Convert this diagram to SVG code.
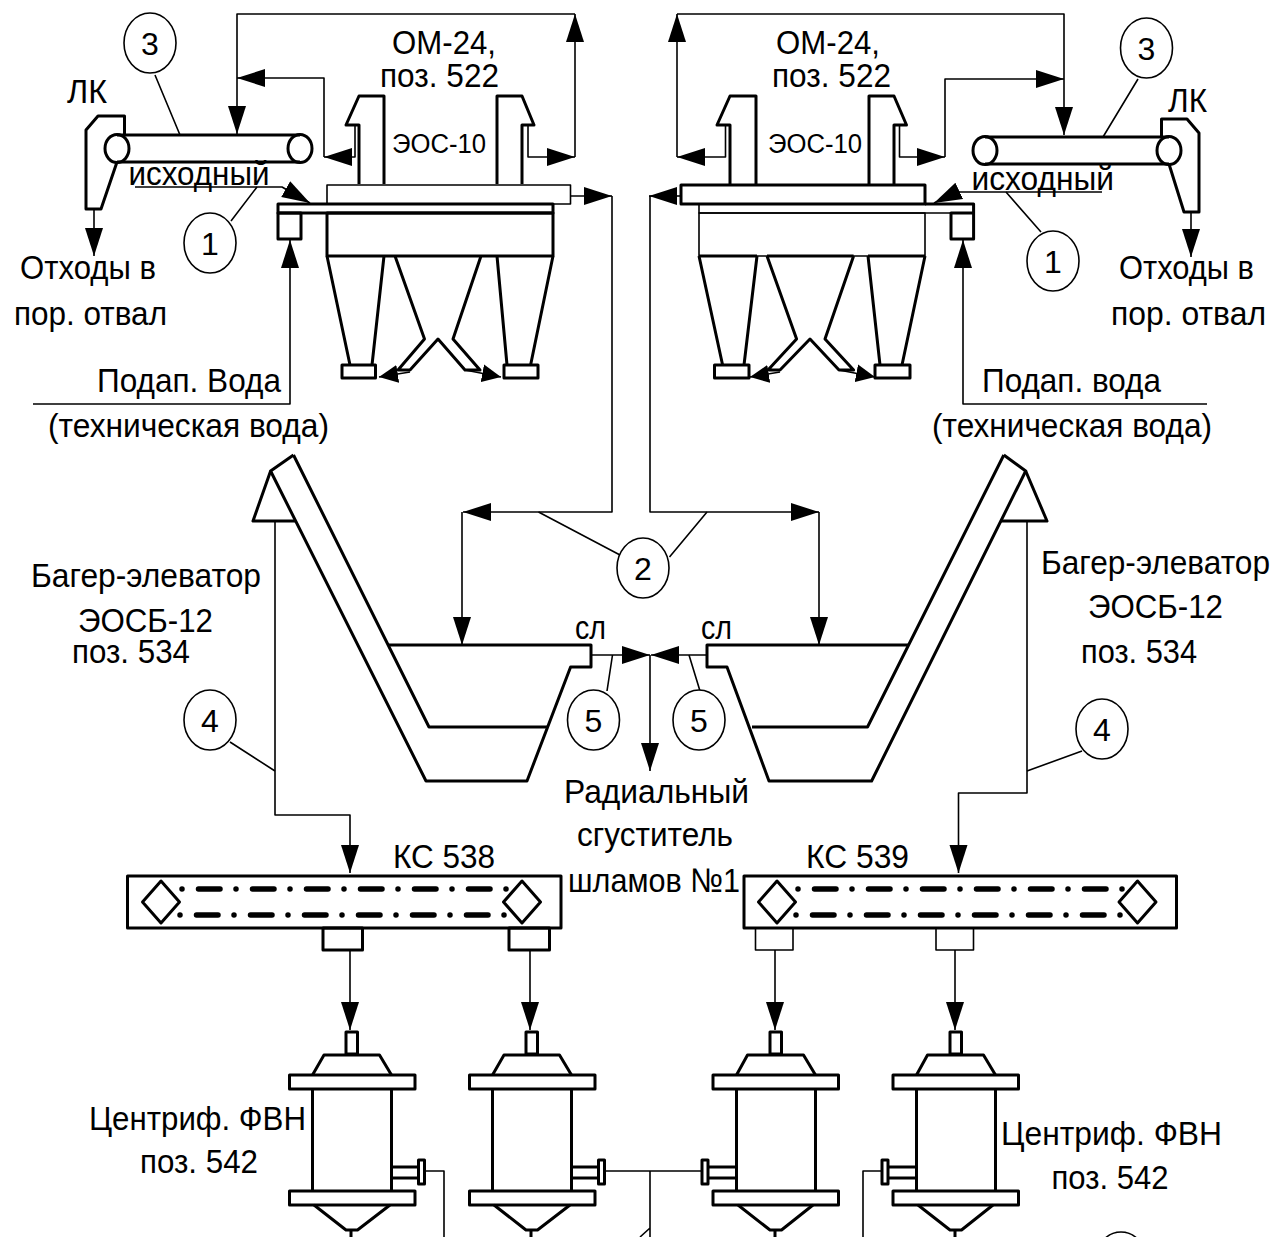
<svg xmlns="http://www.w3.org/2000/svg" width="1278" height="1237" viewBox="0 0 1278 1237">
<style>
text{font-family:"Liberation Sans",Arial,sans-serif;font-size:34px;fill:#000}
.s{font-size:27px}
.g{font-size:32px}
.m{text-anchor:middle}
path,rect,ellipse,polygon,line{fill:none;stroke:#000;stroke-width:3;stroke-linejoin:round}
.t{stroke-width:1.6}
.c{stroke-width:1.6}
.k{fill:#000;stroke:none}
.r{stroke-width:1.6;fill:#fff}
.d{stroke-width:5.5;stroke-linecap:round;stroke-dasharray:0 16.5 21.5 16}
#connectors path{marker-end:url(#a)}
#connectors path.n{marker-end:none;stroke-width:1.6}
#connectors path.sm{marker-end:url(#b)}
</style>
<defs>
<marker id="a" markerUnits="userSpaceOnUse" markerWidth="29" markerHeight="20" refX="28" refY="10" orient="auto"><path class="k" d="M0 1L28 10L0 19Z"/></marker>
<marker id="b" markerUnits="userSpaceOnUse" markerWidth="20" markerHeight="20" refX="19" refY="10" orient="auto"><path class="k" d="M0 1L19 10L0 19Z"/></marker>
</defs>
<rect x="0" y="0" width="1278" height="1237" style="fill:#fff;stroke:none"/>

<g id="connectors">
<path class="c" d="M575 157V14"/>
<path class="c" d="M575 14H237V134"/>
<path class="c" d="M355 125V157H324"/>
<path class="c" d="M324 157V78H237"/>
<path class="c" d="M528 125V157H575"/>
<path class="c" d="M94 209V256"/>
<path class="c" d="M570 196H612"/>
<path class="c" d="M612 196V512H463"/>
<path class="c" d="M462 512V645"/>
<path class="c" d="M33 404H290V240"/>
<path class="c" d="M135 187H282L310 203"/>
<path class="sm t" d="M410 372L379 377"/>
<path class="sm t" d="M465 370L501 377"/>

<path class="c" d="M677 157V14"/>
<path class="c" d="M677 14H1064V135"/>
<path class="c" d="M725.500 125V157H677"/>
<path class="c" d="M899.500 125V157H945"/>
<path class="c" d="M945 157V79H1064"/>
<path class="c" d="M1191 212V257"/>
<path class="c" d="M681 196H649"/>
<path class="c" d="M650 196V512H819"/>
<path class="c" d="M819 512V645"/>
<path class="c" d="M1207 404H963V240"/>
<path class="c" d="M1102 192H957L934 203"/>
<path class="sm t" d="M780 372L750 377"/>
<path class="sm t" d="M839 370L875 377"/>

<path class="c" d="M591 655H650"/>
<path class="c" d="M707 655H651"/>
<path class="c" d="M650 655V771"/>
<path class="c" d="M275 521V815H350V873"/>
<path class="c" d="M1027 521V793H958.500V873"/>
<path class="c" d="M350 950V1030"/>
<path class="c" d="M530 950V1030"/>
<path class="c" d="M775 950V1030"/>
<path class="c" d="M955 950V1030"/>

<path class="n" d="M425 1171H444V1237"/>
<path class="n" d="M605 1171H702M650 1171V1237M650 1228L640 1237"/>
<path class="n" d="M882 1171H863V1237"/>
<path class="n" d="M155 75L180 135M257 187L231 221"/>
<path class="n" d="M1138 79L1103 137M1006 192L1041 232"/>
<path class="n" d="M538.500 512L620 555M707 512L669.500 557"/>
<path class="n" d="M612.500 655L607 691M689 655L700 691"/>
<path class="n" d="M275 771L230 742M1027 771L1082 751"/>
</g>

<g id="conveyor-left">
<path d="M117 135H300M117 162H300"/>
<ellipse cx="117" cy="148.500" rx="12" ry="14" />
<ellipse cx="300" cy="148.500" rx="12" ry="14"/>
<path d="M124.500 135V116H98L86 130V209H101L117 162"/>
</g>
<g id="cyclone-left">
<rect class="t" x="327" y="185" width="243.500" height="19"/>
<path d="M359 184V125H346L359 96H384V184"/>
<path d="M522 184V125H534L522 96H497V184"/>
<path d="M278 204H553V213H278Z" />
<rect x="278" y="213" width="23" height="26"/>
<rect x="327" y="213" width="226" height="43"/>
<path d="M327 256L350 365M384 256L372 365"/>
<rect x="342" y="365" width="33.500" height="13"/>
<path d="M395 256L424.500 339L398 370H410L438 339L465 370H480L453 339L481 256"/>
<path d="M497 256L507 365M553 256L530.600 365"/>
<rect x="504" y="365" width="34" height="13"/>
</g>
<g id="conveyor-right">
<path d="M985 137H1169M985 164H1169"/>
<ellipse cx="985" cy="150.500" rx="12" ry="14"/>
<ellipse cx="1169" cy="150.500" rx="12" ry="14"/>
<path d="M1161.500 137V119H1187L1199 133V212H1184L1169 164"/>
</g>
<g id="cyclone-right">
<rect x="681" y="185" width="244" height="19"/>
<path d="M730 184V125H717L730 96H756V184"/>
<path d="M894 184V125H906.500L894 96H869V184"/>
<path d="M699 204V213H973.600V204H925" class="t"/>
<path d="M925 204H973.600V213"/>
<rect x="951" y="213" width="22.600" height="26"/>
<rect class="t" x="699" y="213" width="226" height="43"/>
<path d="M699 256H757M767 256H853.600M868 256H925" />
<path d="M699 256L722.600 365M757 256L744 365"/>
<rect x="714.500" y="365" width="34.500" height="13"/>
<path d="M767 256L796.600 339L768 370H780L810 339L839 370H853.600L825 339L853.600 256"/>
<path d="M868 256L880 365M925 256L902 365"/>
<rect x="875" y="365" width="35" height="13"/>
</g>

<g id="elevator-left">
<path d="M293.500 455L270.600 471L426 781H527L570.600 667H591V645H388"/>
<path d="M293.500 455L429 727H547.600"/>
<path d="M270.600 471L253 521H296"/>
</g>
<g id="elevator-right">
<path d="M1003.800 455L1025.700 471L871.600 781H769L727 667H707V645H908"/>
<path d="M1003.800 455L867.500 727H752"/>
<path d="M1025.700 471L1047 521H1000"/>
</g>

<g id="ks-538">
<rect x="127.500" y="876" width="433.500" height="52"/>
<polygon points="161,881 179.500,902 161,923 142.500,902"/>
<polygon points="522,881 540.500,902 522,923 503.500,902"/>
<path class="d" d="M182 889H508"/>
<path class="d" d="M180 915H506"/>
<rect x="323" y="928" width="39.500" height="22"/>
<rect x="509" y="928" width="40.500" height="22"/>
</g>
<g id="ks-539">
<rect x="744" y="876" width="432.500" height="52"/>
<polygon points="777,881 795.500,902 777,923 758.500,902"/>
<polygon points="1137.500,881 1156,902 1137.500,923 1119,902"/>
<path class="d" d="M798 889H1124"/>
<path class="d" d="M796 915H1122"/>
<rect class="t" x="755.500" y="928" width="37.500" height="22"/>
<rect class="t" x="936" y="928" width="37.500" height="22"/>
</g>

<g id="cent-1">
<rect x="346" y="1032" width="11.500" height="22"/>
<path d="M312.500 1075L324 1055H379.500L391.500 1075"/>
<rect x="289.500" y="1075" width="125.500" height="14"/>
<path d="M312.500 1089V1191M391.500 1089V1191"/>
<rect x="289.500" y="1191" width="125.500" height="14"/>
<path d="M314 1205L346 1230H357.500L390 1205M351 1230V1237"/>
<path d="M391.500 1167H418M391.500 1178H418"/>
<rect x="418.500" y="1160" width="6" height="24"/>
</g>
<g id="cent-2">
<rect x="526" y="1032" width="11.500" height="22"/>
<path d="M492.500 1075L504 1055H559.500L571.500 1075"/>
<rect x="469.500" y="1075" width="125.500" height="14"/>
<path d="M492.500 1089V1191M571.500 1089V1191"/>
<rect x="469.500" y="1191" width="125.500" height="14"/>
<path d="M494 1205L526 1230H537.500L570 1205M531 1230V1237"/>
<path d="M571.500 1167H598M571.500 1178H598"/>
<rect x="598.500" y="1160" width="6" height="24"/>
</g>
<g id="cent-3">
<rect x="770" y="1032" width="11.500" height="22"/>
<path d="M736.500 1075L747.500 1055H803.500L815.500 1075"/>
<rect x="713" y="1075" width="125.500" height="14"/>
<path d="M736.500 1089V1191M815.500 1089V1191"/>
<rect x="713" y="1191" width="125.500" height="14"/>
<path d="M738 1205L770 1230H781.500L813 1205M775 1230V1237"/>
<path d="M736.500 1167H709M736.500 1178H709"/>
<rect x="702" y="1160" width="6" height="24"/>
</g>
<g id="cent-4">
<rect x="950" y="1032" width="11.500" height="22"/>
<path d="M916.500 1075L927.500 1055H983.500L995.500 1075"/>
<rect x="893" y="1075" width="125.500" height="14"/>
<path d="M916.500 1089V1191M995.500 1089V1191"/>
<rect x="893" y="1191" width="125.500" height="14"/>
<path d="M918 1205L950 1230H961.500L993 1205M955 1230V1237"/>
<path d="M916.500 1167H889M916.500 1178H889"/>
<rect x="882" y="1160" width="6" height="24"/>
</g>

<g id="callouts">
<g id="ring-3-l"><ellipse class="r" cx="150" cy="43" rx="26" ry="30"/><text class="m g" x="150" y="55">3</text></g>
<g id="ring-1-l"><ellipse class="r" cx="210" cy="243" rx="26" ry="30"/><text class="m g" x="210" y="255">1</text></g>
<g id="ring-3-r"><ellipse class="r" cx="1146.500" cy="48" rx="26" ry="30"/><text class="m g" x="1146.500" y="60">3</text></g>
<g id="ring-1-r"><ellipse class="r" cx="1053" cy="261" rx="26" ry="30"/><text class="m g" x="1053" y="273">1</text></g>
<g id="ring-2"><ellipse class="r" cx="643" cy="568" rx="26" ry="30"/><text class="m g" x="643" y="580">2</text></g>
<g id="ring-5-l"><ellipse class="r" cx="593.500" cy="720" rx="26" ry="30"/><text class="m g" x="593.500" y="732">5</text></g>
<g id="ring-5-r"><ellipse class="r" cx="699" cy="720" rx="26" ry="30"/><text class="m g" x="699" y="732">5</text></g>
<g id="ring-4-l"><ellipse class="r" cx="210" cy="720" rx="26" ry="30"/><text class="m g" x="210" y="732">4</text></g>
<g id="ring-4-r"><ellipse class="r" cx="1102" cy="729" rx="26" ry="30"/><text class="m g" x="1102" y="741">4</text></g>
<ellipse class="r" cx="1121" cy="1262" rx="26" ry="30"/>
</g>

<g id="labels">
<text x="392" y="54" textLength="104" lengthAdjust="spacingAndGlyphs">ОМ-24,</text>
<text x="380" y="87" textLength="119" lengthAdjust="spacingAndGlyphs">поз. 522</text>
<text x="776" y="54" textLength="104" lengthAdjust="spacingAndGlyphs">ОМ-24,</text>
<text x="772" y="87" textLength="119" lengthAdjust="spacingAndGlyphs">поз. 522</text>
<text x="67" y="103" textLength="40" lengthAdjust="spacingAndGlyphs">ЛК</text>
<text x="1168" y="112" textLength="39" lengthAdjust="spacingAndGlyphs">ЛК</text>
<text class="s" x="392" y="153" textLength="94" lengthAdjust="spacingAndGlyphs">ЭОС-10</text>
<text class="s" x="768" y="153" textLength="94" lengthAdjust="spacingAndGlyphs">ЭОС-10</text>
<text x="128.500" y="185" textLength="141" lengthAdjust="spacingAndGlyphs">исходный</text>
<text x="971.500" y="190" textLength="142.500" lengthAdjust="spacingAndGlyphs">исходный</text>
<text x="20" y="279" textLength="136" lengthAdjust="spacingAndGlyphs">Отходы в</text>
<text x="14" y="325" textLength="153" lengthAdjust="spacingAndGlyphs">пор. отвал</text>
<text x="1119" y="279" textLength="135" lengthAdjust="spacingAndGlyphs">Отходы в</text>
<text x="1111" y="325" textLength="155" lengthAdjust="spacingAndGlyphs">пор. отвал</text>
<text x="97" y="392" textLength="184" lengthAdjust="spacingAndGlyphs">Подап. Вода</text>
<text x="48" y="437" textLength="281" lengthAdjust="spacingAndGlyphs">(техническая вода)</text>
<text x="982" y="392" textLength="179" lengthAdjust="spacingAndGlyphs">Подап. вода</text>
<text x="932" y="437" textLength="280" lengthAdjust="spacingAndGlyphs">(техническая вода)</text>
<text x="31" y="587" textLength="230" lengthAdjust="spacingAndGlyphs">Багер-элеватор</text>
<text x="78" y="632" textLength="135" lengthAdjust="spacingAndGlyphs">ЭОСБ-12</text>
<text x="72" y="663" textLength="118" lengthAdjust="spacingAndGlyphs">поз. 534</text>
<text x="1041" y="574" textLength="229" lengthAdjust="spacingAndGlyphs">Багер-элеватор</text>
<text x="1088" y="618" textLength="135" lengthAdjust="spacingAndGlyphs">ЭОСБ-12</text>
<text x="1081" y="663" textLength="116" lengthAdjust="spacingAndGlyphs">поз. 534</text>
<text x="575" y="639" textLength="31" lengthAdjust="spacingAndGlyphs">сл</text>
<text x="701" y="639" textLength="31" lengthAdjust="spacingAndGlyphs">сл</text>
<text x="564" y="803" textLength="185" lengthAdjust="spacingAndGlyphs">Радиальный</text>
<text x="577" y="846" textLength="156" lengthAdjust="spacingAndGlyphs">сгуститель</text>
<text x="568" y="892" textLength="172" lengthAdjust="spacingAndGlyphs">шламов №1</text>
<text x="393" y="868" textLength="102" lengthAdjust="spacingAndGlyphs">КС 538</text>
<text x="806" y="868" textLength="103" lengthAdjust="spacingAndGlyphs">КС 539</text>
<text x="89" y="1130" textLength="217" lengthAdjust="spacingAndGlyphs">Центриф. ФВН</text>
<text x="140" y="1173" textLength="118" lengthAdjust="spacingAndGlyphs">поз. 542</text>
<text x="1001" y="1145" textLength="221" lengthAdjust="spacingAndGlyphs">Центриф. ФВН</text>
<text x="1051.500" y="1189" textLength="117" lengthAdjust="spacingAndGlyphs">поз. 542</text>
</g>
</svg>
